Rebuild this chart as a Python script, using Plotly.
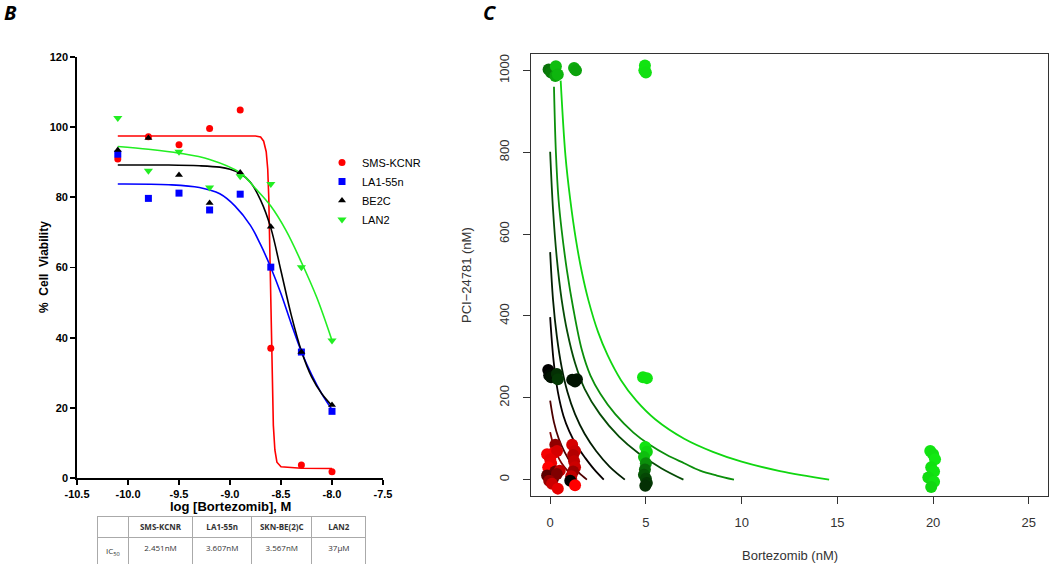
import plotly.graph_objects as go
from plotly.colors import sample_colorscale

W, H = 1050, 564

# ---------------- Panel B data ----------------
log_dose = [-10.1, -9.8, -9.5, -9.2, -8.9, -8.6, -8.3, -8.0]
sms_kcnr = [90.9, 97.3, 95.0, 99.6, 104.9, 37.0, 3.7, 1.8]
la1_55n = [92.3, 79.7, 81.2, 76.4, 80.9, 60.1, 35.9, 19.0]
be2c = [93.5, 96.9, 86.4, 78.4, 87.1, 71.6, 35.9, 20.8]
lan2 = [102.6, 87.6, 93.0, 82.8, 86.0, 83.8, 60.1, 39.2]

# fitted curves
sms_fit_x = [-10.1, -8.75, -8.70, -8.67, -8.645, -8.63, -8.62, -8.61, -8.60, -8.59, -8.575, -8.56, -8.54, -8.5, -8.3, -8.0]
sms_fit_y = [97.5, 97.5, 97.2, 96.0, 93.0, 88.0, 80.0, 65.0, 45.0, 28.0, 15.0, 8.0, 4.5, 3.2, 2.8, 2.7]
la1_fit_x = [-10.1, -9.6, -9.3, -9.1, -8.95, -8.8, -8.7, -8.6, -8.5, -8.4, -8.3, -8.2, -8.1, -8.0]
la1_fit_y = [83.8, 83.6, 82.8, 81.0, 77.5, 72.0, 66.5, 60.0, 52.5, 44.0, 36.0, 29.5, 24.0, 19.5]
be2c_fit_x = [-10.1, -9.6, -9.3, -9.1, -9.0, -8.9, -8.8, -8.7, -8.6, -8.5, -8.4, -8.3, -8.2, -8.1, -8.0]
be2c_fit_y = [89.2, 89.2, 89.0, 88.6, 88.0, 86.8, 84.3, 79.2, 71.3, 59.0, 46.5, 36.2, 28.8, 24.0, 20.6]
lan2_fit_x = [-10.1, -9.8, -9.5, -9.2, -8.9, -8.75, -8.6, -8.45, -8.3, -8.15, -8.0]
lan2_fit_y = [94.5, 93.7, 92.6, 90.8, 87.0, 82.5, 77.5, 70.5, 61.5, 51.5, 39.2]

series_names = ["SMS-KCNR", "LA1-55n", "BE2C", "LAN2"]
b_xticks = [-10.5, -10.0, -9.5, -9.0, -8.5, -8.0, -7.5]
b_xtick_labels = ["-10.5", "-10.0", "-9.5", "-9.0", "-8.5", "-8.0", "-7.5"]
b_yticks = [0, 20, 40, 60, 80, 100, 120]

table_header = ["", "SMS-KCNR", "LA1-55n", "SKN-BE(2)C", "LAN2"]
table_row = ["IC<sub>50</sub>", "2.451nM", "3.607nM", "3.567nM", "37μM"]

# ---------------- Panel C data ----------------
# points: bortezomib (nM), PCI-24781 (nM), effect (0 = red, 0.5 = black, 1 = green)
c_x = [-0.08, 0.05, 0.30, 0.27, 0.40, 1.25, 1.35, 4.95, 4.92, 5.00,
       -0.10, -0.05, 0.05, 0.35, 0.40, 1.15, 1.40, 1.30, 4.85, 5.05,
       0.27, 0.18, -0.16, 0.36, 0.00, 0.05, -0.10, 0.27, 0.50, -0.16, 0.15, 0.35, -0.05, 0.10, 0.40,
       1.15, 1.30, 1.20, 1.25, 1.30, 1.20, 1.10, 1.05, 1.30,
       4.97, 5.05, 4.90, 5.00, 4.95, 4.90, 5.00, 5.05, 4.97,
       19.85, 20.00, 20.10, 19.90, 20.05, 19.75, 20.05, 19.90]
c_y = [1002, 995, 1010, 986, 990, 1006, 1000, 1012, 1000, 995,
       268, 255, 250, 258, 245, 244, 245, 240, 250, 248,
       85, 65, 62, 70, 50, 40, 30, 20, 22, 10, 3, 14, -3, -10, -22,
       85, 70, 60, 45, 30, 20, 8, -3, -14,
       80, 68, 55, 40, 25, 12, 2, -8, -15,
       70, 62, 50, 30, 20, 5, -5, -18]
c_effect = [0.74, 0.76, 0.90, 0.84, 0.88, 0.86, 0.84, 0.98, 0.98, 0.97,
            0.50, 0.52, 0.54, 0.60, 0.62, 0.54, 0.55, 0.54, 0.98, 0.98,
            0.22, 0.02, 0.02, 0.08, 0.05, 0.04, 0.00, 0.30, 0.12, 0.32, 0.35, 0.25, 0.20, 0.10, 0.05,
            0.08, 0.10, 0.15, 0.12, 0.10, 0.20, 0.12, 0.50, 0.00,
            0.98, 0.95, 0.90, 0.80, 0.72, 0.68, 0.65, 0.62, 0.60,
            0.98, 0.97, 0.99, 0.97, 0.98, 0.96, 0.98, 0.95]

# iso-effect curves
curve_levels = [0.25, 0.35, 0.49, 0.56, 0.66, 0.80, 0.95]
curve_x = [
    [0.0, 0.15, 0.35, 0.6, 0.9, 1.2, 1.4],
    [0.0, 0.2, 0.45, 0.75, 1.1, 1.5, 1.92],
    [0.0, 0.18, 0.4, 0.7, 1.0, 1.4, 1.85, 2.3, 2.8],
    [0.0, 0.15, 0.35, 0.6, 0.9, 1.3, 1.8, 2.4, 3.1, 3.9],
    [0.0, 0.15, 0.35, 0.6, 0.9, 1.3, 1.8, 2.6, 3.6, 4.6, 5.8, 6.96],
    [0.2, 0.3, 0.44, 0.6, 0.88, 1.2, 1.66, 2.1, 2.62, 3.4, 4.35, 5.2, 6.1, 7.0, 7.83, 8.7, 9.6],
    [0.55, 0.8, 1.05, 1.35, 1.66, 2.0, 2.5, 3.0, 3.7, 4.5, 5.5, 7.0, 8.5, 10.0, 12.0, 14.57],
]
curve_y = [
    [116, 88, 62, 40, 22, 8, 0],
    [193, 140, 100, 68, 40, 17, 0],
    [397, 290, 215, 155, 118, 82, 52, 25, 0],
    [556, 440, 350, 275, 215, 160, 112, 70, 32, 0],
    [801, 660, 540, 440, 360, 285, 222, 160, 105, 65, 28, 0],
    [960, 800, 684, 610, 510, 420, 316, 255, 210, 160, 115, 85, 60, 40, 22, 10, 0],
    [975, 791, 684, 585, 506, 438, 361, 304, 243, 193, 147, 100, 68, 44, 21, 0],
]
c_xticks = [0, 5, 10, 15, 20, 25]
c_yticks = [0, 200, 400, 600, 800, 1000]

effect_scale = [[0.0, "#ff0000"], [0.5, "#000000"], [1.0, "#12ee12"]]


def fx(p):  # page x pixel -> paper fraction
    return p / W


def fy(p):  # page y pixel -> paper fraction
    return 1 - p / H


fig = go.Figure()

# ---- Panel B traces ----
b_colors = ["#ff0000", "#0000ff", "#000000", "#22ee22"]
b_symbols = ["circle", "square", "triangle-up", "triangle-down"]
b_sizes = [7, 7, 7, 8]
fits = [(sms_fit_x, sms_fit_y, "linear"), (la1_fit_x, la1_fit_y, "spline"),
        (be2c_fit_x, be2c_fit_y, "spline"), (lan2_fit_x, lan2_fit_y, "spline")]
vals = [sms_kcnr, la1_55n, be2c, lan2]
for i in range(4):
    cx, cy, shape = fits[i]
    fig.add_trace(go.Scatter(x=cx, y=cy, mode="lines", line=dict(color=b_colors[i], width=1.6, shape=shape),
                             showlegend=False, xaxis="x", yaxis="y", hoverinfo="skip"))
for i in range(4):
    fig.add_trace(go.Scatter(x=log_dose, y=vals[i], mode="markers", name=series_names[i],
                             marker=dict(color=b_colors[i], symbol=b_symbols[i], size=b_sizes[i]),
                             xaxis="x", yaxis="y"))

# ---- Panel C traces ----
curve_colors = sample_colorscale(effect_scale, curve_levels)
for cx, cy, col in zip(curve_x, curve_y, curve_colors):
    fig.add_trace(go.Scatter(x=cx, y=cy, mode="lines", line=dict(color=col, width=1.8, shape="spline", smoothing=1.0),
                             showlegend=False, xaxis="x2", yaxis="y2", hoverinfo="skip"))
fig.add_trace(go.Scatter(x=c_x, y=c_y, mode="markers", showlegend=False,
                         marker=dict(color=c_effect, colorscale=effect_scale, cmin=0, cmax=1, size=12,
                                     showscale=False, line=dict(width=0)),
                         xaxis="x2", yaxis="y2"))

# ---- Table ----
fig.add_trace(go.Table(
    domain=dict(x=[fx(97), fx(366)], y=[0, fy(516)]),
    columnwidth=[31.6, 64, 59.4, 60, 54.3],
    header=dict(values=table_header, height=21, align="center",
                font=dict(family="Open Sans", size=8, color="#333333", weight="bold"),
                line=dict(color="#aaaaaa", width=1), fill=dict(color="white")),
    cells=dict(values=[[v] for v in table_row], height=21, align="center",
               font=dict(family="Open Sans", size=8, color="#333333"),
               line=dict(color="#aaaaaa", width=1), fill=dict(color="white")),
))

bold_tick = dict(family="Liberation Sans", size=11, color="black", weight="bold")
c_tick = dict(family="Liberation Sans", size=13, color="#333333")


def ann(text, xp, yp, font, angle=0):
    return dict(text=text, x=fx(xp), y=fy(yp), xref="paper", yref="paper",
                xanchor="center", yanchor="middle", textangle=angle, showarrow=False, font=font)


fig.update_layout(
    template="none",
    width=W, height=H, margin=dict(l=0, r=0, t=0, b=0, pad=0), autosize=False,
    paper_bgcolor="white", plot_bgcolor="white",
    xaxis=dict(domain=[fx(77), fx(383)], range=[-10.5, -7.5], anchor="y", automargin=False,
               tickvals=b_xticks, ticktext=b_xtick_labels, ticks="outside", ticklen=5, tickwidth=1.8,
               tickcolor="black", showline=True, linecolor="black", linewidth=1.8,
               showgrid=False, zeroline=False, tickfont=bold_tick, ticklabelstandoff=0),
    yaxis=dict(domain=[fy(478), fy(57)], range=[0, 120], anchor="x", automargin=False,
               tickvals=b_yticks, ticks="outside", ticklen=5, tickwidth=1.8, tickcolor="black",
               showline=True, linecolor="black", linewidth=1.8,
               showgrid=False, zeroline=False, tickfont=bold_tick),
    xaxis2=dict(domain=[fx(531), fx(1048)], range=[-1, 26], anchor="y2", automargin=False,
                tickvals=c_xticks, ticks="outside", ticklen=7, tickwidth=1, tickcolor="#333333",
                showline=True, mirror=True, linecolor="#333333", linewidth=1,
                showgrid=False, zeroline=False, tickfont=c_tick, ticklabelstandoff=7),
    yaxis2=dict(domain=[fy(496), fy(54)], range=[-40, 1040], anchor="x2", automargin=False,
                tickvals=c_yticks, ticks="outside", ticklen=7, tickwidth=1, tickcolor="#333333",
                showline=True, mirror=True, linecolor="#333333", linewidth=1, tickangle=-90,
                showgrid=False, zeroline=False, tickfont=c_tick, ticklabelstandoff=9),
    showlegend=True,
    legend=dict(x=fx(322), y=fy(148), xanchor="left", yanchor="top",
                font=dict(family="Liberation Sans", size=11, color="black"),
                bgcolor="rgba(0,0,0,0)", borderwidth=0, tracegroupgap=0),
    annotations=[
        ann("<b><i>B</i></b>", 10, 12, dict(family="Open Sans", size=20, color="black")),
        ann("<b><i>C</i></b>", 490, 12, dict(family="Open Sans", size=20, color="black")),
        ann("log [Bortezomib], M", 230, 506, dict(family="Liberation Sans", size=13, color="black", weight="bold")),
        ann("%  Cell  Viability", 44, 267, dict(family="Liberation Sans", size=12, color="black", weight="bold"), -90),
        ann("Bortezomib (nM)", 790, 555, dict(family="Liberation Sans", size=13, color="#333333")),
        ann("PCI\u221224781 (nM)", 466, 275, dict(family="Liberation Sans", size=13, color="#333333"), -90),
    ],
)

# remove the browser's default 8px body margin so the figure fills the window exactly
fig.write_html("out.html", config={"displayModeBar": False, "staticPlot": True},
               post_script="document.body.style.margin='0';")
